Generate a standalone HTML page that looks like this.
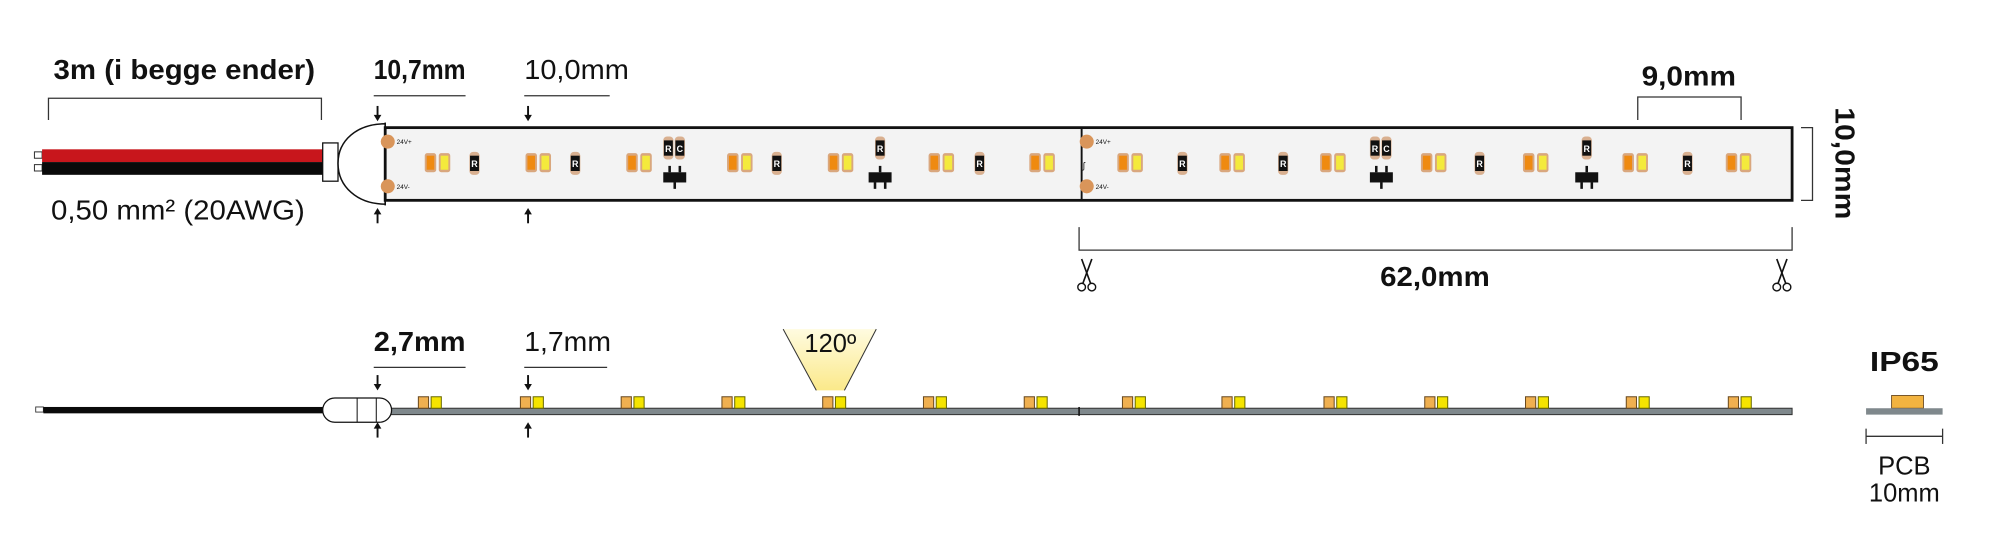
<!DOCTYPE html>
<html><head><meta charset="utf-8"><style>
html,body{margin:0;padding:0;background:#fff;width:2000px;height:555px;overflow:hidden}
svg{display:block}
text{font-family:"Liberation Sans",Arial,sans-serif;fill:#111}
.b{font-weight:bold}
</style></head><body>
<svg width="2000" height="555" viewBox="0 0 1568 435" xmlns="http://www.w3.org/2000/svg">
<defs>
<linearGradient id="beam" x1="0" y1="0" x2="0" y2="1">
<stop offset="0" stop-color="#fffbe0"/><stop offset="1" stop-color="#fbe98a"/>
</linearGradient>
<g id="pair"><rect x="0" y="0" width="9" height="15" rx="2" fill="#d9a77e"/><rect x="1.5" y="2" width="6" height="11" fill="#ef8a10"/><rect x="11" y="0" width="9" height="15" rx="2" fill="#d9a77e"/><rect x="12.5" y="2" width="6" height="11" fill="#f4ea3c"/></g>
<g id="res"><rect x="-4" y="-9" width="8" height="18" rx="3" fill="#d9b090"/><rect x="-3.5" y="-6" width="7" height="12" fill="#111"/><text x="0" y="3" font-size="7" text-anchor="middle" style="fill:#fff;font-weight:bold">R</text></g>
<g id="tr"><rect x="-9" y="-4" width="18" height="8" fill="#111"/><rect x="-1" y="4" width="2" height="5" fill="#111"/><rect x="-5" y="-9" width="2" height="5" fill="#111"/><rect x="3" y="-9" width="2" height="5" fill="#111"/></g>
<g id="tr2"><rect x="-9" y="-4" width="18" height="8" fill="#111"/><rect x="-1" y="-9" width="2" height="5" fill="#111"/><rect x="-5" y="4" width="2" height="5" fill="#111"/><rect x="3" y="4" width="2" height="5" fill="#111"/></g>
<g id="sp"><rect x="0" y="0" width="8" height="9" fill="#f0b050" stroke="#6a4a20" stroke-width="0.8"/><rect x="10" y="0" width="8" height="9" fill="#f5e400" stroke="#6a6a00" stroke-width="0.8"/></g>
<g id="ad"><line x1="0" y1="0" x2="0" y2="9" stroke="#111" stroke-width="1.5"/><path d="M-3,7 L3,7 L0,12 Z" fill="#111"/></g>
<g id="au"><line x1="0" y1="3" x2="0" y2="12" stroke="#111" stroke-width="1.5"/><path d="M-3,5 L3,5 L0,0 Z" fill="#111"/></g>
<g id="sc"><line x1="-4" y1="-13" x2="3" y2="6" stroke="#111" stroke-width="1.3"/><line x1="4" y1="-13" x2="-3" y2="6" stroke="#111" stroke-width="1.3"/><circle cx="-4" cy="9" r="3" fill="none" stroke="#111" stroke-width="1.1"/><circle cx="4" cy="9" r="3" fill="none" stroke="#111" stroke-width="1.1"/></g>
</defs>

<!-- top labels -->
<text x="42" y="62" class="b" font-size="22" textLength="205" lengthAdjust="spacingAndGlyphs">3m (i begge ender)</text>
<path d="M38,94 V77 H252 V94" fill="none" stroke="#333" stroke-width="1"/>
<text x="293" y="62" class="b" font-size="22" textLength="72" lengthAdjust="spacingAndGlyphs">10,7mm</text>
<line x1="293" y1="75" x2="365" y2="75" stroke="#333"/>
<text x="411" y="62" font-size="22" textLength="82" lengthAdjust="spacingAndGlyphs">10,0mm</text>
<line x1="411" y1="75" x2="478" y2="75" stroke="#333"/>
<use href="#ad" x="296" y="83"/><use href="#ad" x="414" y="83"/>
<use href="#au" x="296" y="163"/><use href="#au" x="414" y="163"/>
<text x="1287" y="67" class="b" font-size="22" textLength="74" lengthAdjust="spacingAndGlyphs">9,0mm</text>
<path d="M1284,94 V76 H1365 V94" fill="none" stroke="#333"/>
<text x="40" y="172" font-size="22" textLength="199" lengthAdjust="spacingAndGlyphs">0,50 mm² (20AWG)</text>

<!-- wire -->
<rect x="27" y="119" width="6" height="5" fill="#fff" stroke="#333" stroke-width="0.8"/>
<rect x="27" y="129" width="6" height="5" fill="#fff" stroke="#333" stroke-width="0.8"/>
<rect x="33" y="117" width="220" height="10" fill="#c8161c"/>
<rect x="33" y="127" width="220" height="10" fill="#0a0a0a"/>
<rect x="253" y="112" width="12" height="30" fill="#fff" stroke="#111" stroke-width="1"/>
<path d="M302,97 C280,97 265,110 265,128 C265,146 280,160 302,160 Z" fill="#fff" stroke="#111" stroke-width="1.2"/>

<!-- strip top -->
<rect x="302" y="100" width="1103" height="57" fill="#f3f3f3" stroke="#111" stroke-width="2.2"/>
<line x1="848" y1="100" x2="848" y2="157" stroke="#111" stroke-width="1.5"/>
<line x1="302" y1="96" x2="302" y2="161" stroke="#111" stroke-width="1.2"/>
<circle cx="304" cy="111" r="5.5" fill="#d9955a"/><circle cx="304" cy="146" r="5.5" fill="#d9955a"/>
<text x="311" y="113" font-size="5">24V+</text><text x="311" y="148" font-size="5">24V-</text>
<circle cx="852" cy="111" r="5.5" fill="#d9955a"/><circle cx="852" cy="146" r="5.5" fill="#d9955a"/>
<text x="859" y="113" font-size="5">24V+</text><text x="859" y="148" font-size="5">24V-</text>
<text x="849" y="132" font-size="7">ʃ</text>

<g transform="translate(0,120)">
<use href="#pair" x="333"/><use href="#pair" x="412"/><use href="#pair" x="491"/><use href="#pair" x="570"/><use href="#pair" x="649"/><use href="#pair" x="728"/><use href="#pair" x="807"/>
<use href="#pair" x="876"/><use href="#pair" x="956"/><use href="#pair" x="1035"/><use href="#pair" x="1114"/><use href="#pair" x="1194"/><use href="#pair" x="1272"/><use href="#pair" x="1353"/>
</g>
<use href="#res" x="372" y="128"/><use href="#res" x="451" y="128"/><use href="#res" x="609" y="128"/><use href="#res" x="768" y="128"/>
<use href="#res" x="927" y="128"/><use href="#res" x="1006" y="128"/><use href="#res" x="1160" y="128"/><use href="#res" x="1323" y="128"/>
<!-- RC + transistor -->
<use href="#res" x="524" y="116"/>
<g transform="translate(533,116)"><rect x="-4" y="-9" width="8" height="18" rx="3" fill="#d9b090"/><rect x="-3.5" y="-6" width="7" height="12" fill="#111"/><text x="0" y="3" font-size="7" text-anchor="middle" style="fill:#fff;font-weight:bold">C</text></g>
<use href="#tr" x="529" y="139"/>
<use href="#res" x="690" y="116"/><use href="#tr2" x="690" y="139"/>
<use href="#res" x="1078" y="116"/>
<g transform="translate(1087,116)"><rect x="-4" y="-9" width="8" height="18" rx="3" fill="#d9b090"/><rect x="-3.5" y="-6" width="7" height="12" fill="#111"/><text x="0" y="3" font-size="7" text-anchor="middle" style="fill:#fff;font-weight:bold">C</text></g>
<use href="#tr" x="1083" y="139"/>
<use href="#res" x="1244" y="116"/><use href="#tr2" x="1244" y="139"/>

<!-- right 10,0mm -->
<path d="M1412,100 H1421 V157 H1412" fill="none" stroke="#333"/>
<text transform="translate(1439,128) rotate(90)" class="b" font-size="22" text-anchor="middle" textLength="88" lengthAdjust="spacingAndGlyphs">10,0mm</text>

<!-- 62,0mm -->
<path d="M846,178 V196 H1405 V178" fill="none" stroke="#333"/>
<text x="1125" y="224" class="b" font-size="22" text-anchor="middle" textLength="86" lengthAdjust="spacingAndGlyphs">62,0mm</text>
<use href="#sc" x="852" y="216"/><use href="#sc" x="1397" y="216"/>

<!-- side view -->
<text x="293" y="275" class="b" font-size="22" textLength="72" lengthAdjust="spacingAndGlyphs">2,7mm</text>
<line x1="293" y1="288" x2="365" y2="288" stroke="#333"/>
<text x="411" y="275" font-size="22" textLength="68" lengthAdjust="spacingAndGlyphs">1,7mm</text>
<line x1="411" y1="288" x2="476" y2="288" stroke="#333"/>
<use href="#ad" x="296" y="294"/><use href="#ad" x="414" y="294"/>
<use href="#au" x="296" y="331"/><use href="#au" x="414" y="331"/>

<path d="M614,258 L687,258 L662,306 L640,306 Z" fill="url(#beam)"/>
<line x1="614" y1="258" x2="640" y2="306" stroke="#333" stroke-width="0.8"/>
<line x1="687" y1="258" x2="662" y2="306" stroke="#333" stroke-width="0.8"/>
<text x="651" y="276" font-size="20" text-anchor="middle">120º</text>

<rect x="28" y="319" width="6" height="4" fill="#fff" stroke="#333" stroke-width="0.7"/>
<rect x="34" y="319" width="222" height="5" fill="#0a0a0a"/>
<rect x="300" y="320" width="1105" height="5" fill="#7f888c" stroke="#333" stroke-width="0.8"/>
<line x1="846" y1="319" x2="846" y2="326" stroke="#111" stroke-width="1.2"/>
<rect x="253" y="312" width="54" height="19" rx="9.5" fill="#fff" stroke="#111" stroke-width="1"/>
<line x1="280" y1="312" x2="280" y2="331" stroke="#111" stroke-width="0.8"/>
<line x1="295" y1="312" x2="295" y2="331" stroke="#111" stroke-width="0.8"/>
<g transform="translate(0,311)">
<use href="#sp" x="328"/><use href="#sp" x="408"/><use href="#sp" x="487"/><use href="#sp" x="566"/><use href="#sp" x="645"/><use href="#sp" x="724"/><use href="#sp" x="803"/>
<use href="#sp" x="880"/><use href="#sp" x="958"/><use href="#sp" x="1038"/><use href="#sp" x="1117"/><use href="#sp" x="1196"/><use href="#sp" x="1275"/><use href="#sp" x="1355"/>
</g>

<!-- IP65 -->
<text x="1493" y="291" class="b" font-size="22" text-anchor="middle" textLength="54" lengthAdjust="spacingAndGlyphs">IP65</text>
<rect x="1483" y="310" width="25" height="10" fill="#f2b340" stroke="#6a4a20" stroke-width="0.7"/>
<rect x="1463" y="320" width="60" height="5" fill="#7f888c"/>
<line x1="1463" y1="342" x2="1523" y2="342" stroke="#333"/>
<line x1="1463" y1="336" x2="1463" y2="348" stroke="#333"/>
<line x1="1523" y1="336" x2="1523" y2="348" stroke="#333"/>
<text x="1493" y="372" font-size="20" text-anchor="middle">PCB</text>
<text x="1493" y="393" font-size="20" text-anchor="middle">10mm</text>
</svg>
</body></html>
